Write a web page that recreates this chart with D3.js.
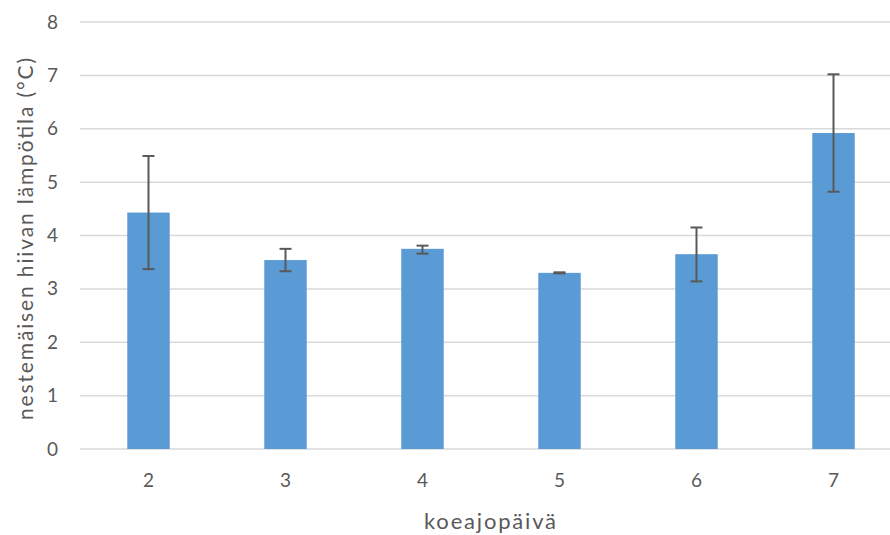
<!DOCTYPE html>
<html>
<head>
<meta charset="utf-8">
<script src="https://cdn.jsdelivr.net/npm/d3@7"></script>
<style>
  body { margin: 0; background: #fff; }
  text { font-family: Lato, "Open Sans", sans-serif; fill: #595959; }
</style>
</head>
<body>
<script>
const days = ['2', '3', '4', '5', '6', '7'];
const means = [4.43, 3.54, 3.75, 3.30, 3.65, 5.92];
const errLow = [3.37, 3.33, 3.66, 3.29, 3.14, 4.82];
const errHigh = [5.49, 3.75, 3.81, 3.31, 4.15, 7.02];
const yTicks = [0, 1, 2, 3, 4, 5, 6, 7, 8];

const width = 890, height = 535;
const plotLeft = 80, plotRight = 890, plotTop = 22, plotBottom = 449;

const svg = d3.select('body').append('svg')
  .attr('width', width)
  .attr('height', height);

const x = d3.scaleBand()
  .domain(days)
  .range([plotLeft, plotLeft + 6 * 137])
  .paddingInner(0.69)
  .paddingOuter(0.345);

const y = d3.scaleLinear()
  .domain([0, 8])
  .range([plotBottom, plotTop]);

// gridlines
svg.append('g')
  .selectAll('line')
  .data(yTicks)
  .join('line')
  .attr('x1', plotLeft)
  .attr('x2', plotRight)
  .attr('y1', d => y(d))
  .attr('y2', d => y(d))
  .attr('stroke', '#d9d9d9')
  .attr('stroke-width', 1.5);

// y tick labels
const yAxis = svg.append('g')
  .attr('transform', `translate(${plotLeft - 22},0)`)
  .call(d3.axisLeft(y).tickValues(yTicks).tickSize(0).tickPadding(0));
yAxis.select('.domain').remove();
yAxis.selectAll('text').attr('font-size', 19).attr('fill', '#595959');

// bars
svg.append('g')
  .selectAll('rect')
  .data(means)
  .join('rect')
  .attr('x', (d, i) => x(days[i]))
  .attr('y', d => y(d))
  .attr('width', x.bandwidth())
  .attr('height', d => y(0) - y(d))
  .attr('fill', '#5b9bd5');

// error bars
const err = svg.append('g')
  .attr('stroke', '#595959')
  .attr('stroke-width', 2);
days.forEach((d, i) => {
  const cx = x(d) + x.bandwidth() / 2;
  err.append('line')
    .attr('x1', cx).attr('x2', cx)
    .attr('y1', y(errLow[i])).attr('y2', y(errHigh[i]));
  [errLow[i], errHigh[i]].forEach(v => {
    err.append('line')
      .attr('x1', cx - 6).attr('x2', cx + 6)
      .attr('y1', y(v)).attr('y2', y(v));
  });
});

// x tick labels
const xAxis = svg.append('g')
  .attr('transform', `translate(0,${plotBottom + 24})`)
  .call(d3.axisBottom(x).tickSize(0).tickPadding(0));
xAxis.select('.domain').remove();
xAxis.selectAll('text').attr('font-size', 19).attr('fill', '#595959');

// axis titles
svg.append('text')
  .attr('x', 490)
  .attr('y', 529)
  .attr('text-anchor', 'middle')
  .attr('font-size', 22)
  .attr('textLength', 132)
  .attr('lengthAdjust', 'spacing')
  .text('koeajopäivä');

svg.append('text')
  .attr('transform', 'translate(33,239) rotate(-90)')
  .attr('text-anchor', 'middle')
  .attr('font-size', 21)
  .attr('textLength', 362)
  .attr('lengthAdjust', 'spacing')
  .text('nestemäisen hiivan lämpötila (°C)');
</script>
</body>
</html>
